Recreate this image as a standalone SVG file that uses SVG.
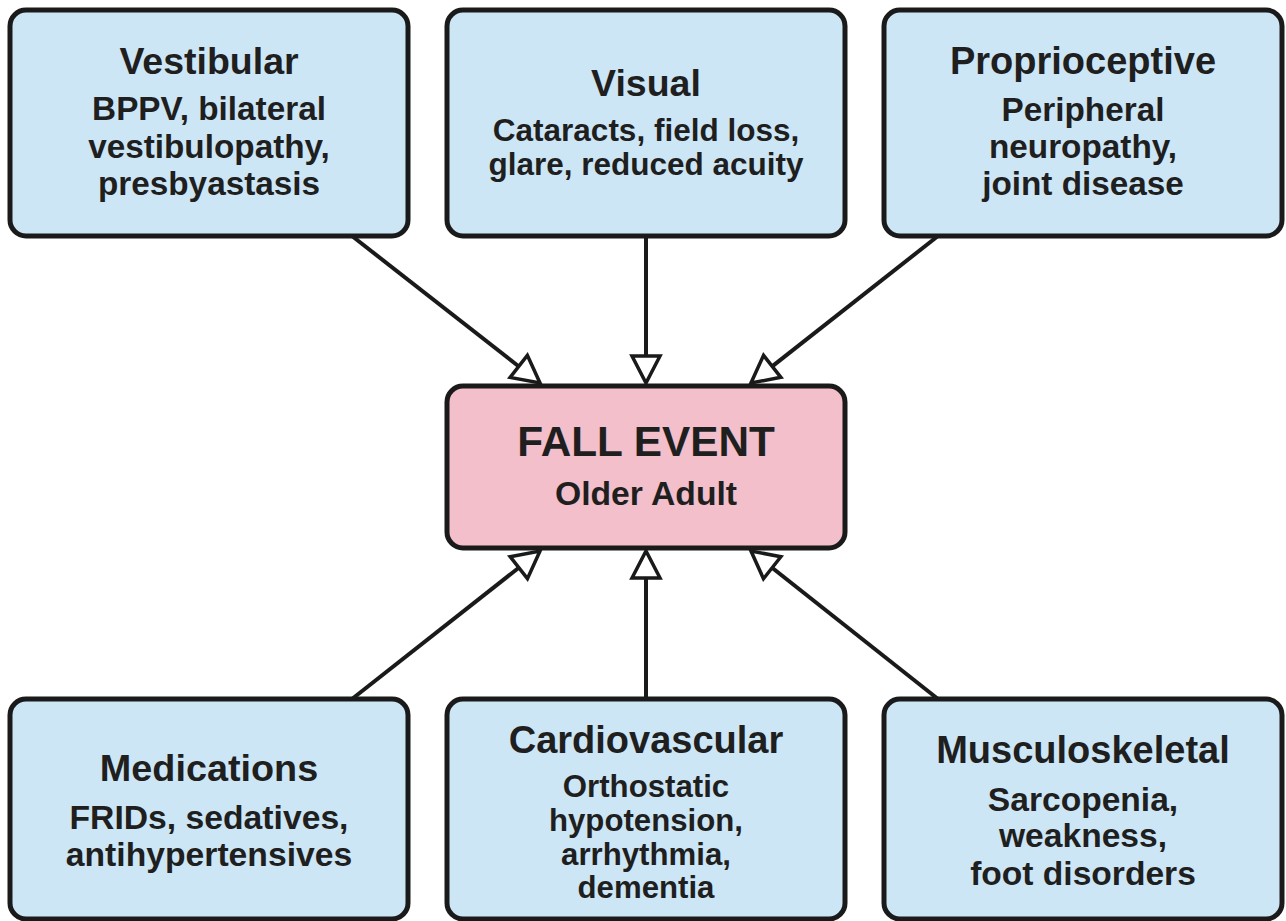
<svg xmlns="http://www.w3.org/2000/svg" width="1286" height="921" viewBox="0 0 1286 921">
<style>
.box{fill:#cde6f6;stroke:#1a1a1a;stroke-width:5}
.center{fill:#f2bfcb;stroke:#1a1a1a;stroke-width:5}
text{font-family:"Liberation Sans",Arial,sans-serif;font-weight:bold;fill:#1f1f1f;text-anchor:middle}
.t{font-size:37.5px}
.b{font-size:33.3px}
.conn{stroke:#1a1a1a;stroke-width:4;fill:none;marker-end:url(#arr)}
</style>
<defs>
<marker id="arr" markerUnits="userSpaceOnUse" viewBox="0 0 34 34" markerWidth="34" markerHeight="34" refX="31" refY="17" orient="auto">
<path d="M4 3 L31 17 L4 31 Z" fill="#ffffff" stroke="#1a1a1a" stroke-width="3.5" stroke-linejoin="miter"/>
</marker>
</defs>
<rect width="1286" height="921" fill="#ffffff"/>
<g id="connectors">
<line class="conn" x1="352" y1="236" x2="540" y2="383"/>
<line class="conn" x1="646" y1="236" x2="646" y2="383"/>
<line class="conn" x1="938" y1="236" x2="751" y2="383"/>
<line class="conn" x1="352" y1="699" x2="540" y2="551"/>
<line class="conn" x1="646" y1="699" x2="646" y2="551"/>
<line class="conn" x1="938" y1="699" x2="751" y2="551"/>
</g>
<g id="vestibular">
<rect class="box" x="10" y="10" width="398" height="226" rx="16"/>
<text class="t" x="209" y="74">Vestibular</text>
<text class="b" x="209" y="120">BPPV, bilateral</text>
<text class="b" x="209" y="158">vestibulopathy,</text>
<text class="b" x="209" y="195">presbyastasis</text>
</g>
<g id="visual">
<rect class="box" x="447" y="10" width="398" height="226" rx="16"/>
<text class="t" x="646" y="96">Visual</text>
<text class="b" x="646" y="141" style="font-size:31.5px">Cataracts, field loss,</text>
<text class="b" x="646" y="175" style="font-size:31.5px">glare, reduced acuity</text>
</g>
<g id="proprioceptive">
<rect class="box" x="884" y="10" width="398" height="226" rx="16"/>
<text class="t" x="1083" y="74" style="font-size:38px">Proprioceptive</text>
<text class="b" x="1083" y="121">Peripheral</text>
<text class="b" x="1083" y="158">neuropathy,</text>
<text class="b" x="1083" y="195">joint disease</text>
</g>
<g id="fall-event">
<rect class="center" x="447" y="386" width="398" height="162" rx="16"/>
<text x="646" y="456" style="font-size:42.3px">FALL EVENT</text>
<text x="646" y="505" style="font-size:33.7px">Older Adult</text>
</g>
<g id="medications">
<rect class="box" x="10" y="699" width="398" height="220" rx="16"/>
<text class="t" x="209" y="781" style="font-size:37.8px">Medications</text>
<text class="b" x="209" y="829" style="font-size:33.7px">FRIDs, sedatives,</text>
<text class="b" x="209" y="866" style="font-size:33.7px">antihypertensives</text>
</g>
<g id="cardiovascular">
<rect class="box" x="447" y="699" width="398" height="220" rx="16"/>
<text class="t" x="646" y="753" style="font-size:38px">Cardiovascular</text>
<text class="b" x="646" y="797" style="font-size:31.2px">Orthostatic</text>
<text class="b" x="646" y="831" style="font-size:31.2px">hypotension,</text>
<text class="b" x="646" y="865" style="font-size:31.2px">arrhythmia,</text>
<text class="b" x="646" y="898" style="font-size:31.2px">dementia</text>
</g>
<g id="musculoskeletal">
<rect class="box" x="884" y="699" width="398" height="220" rx="16"/>
<text class="t" x="1083" y="763" style="font-size:38px">Musculoskeletal</text>
<text class="b" x="1083" y="811" style="font-size:33.6px">Sarcopenia,</text>
<text class="b" x="1083" y="847" style="font-size:33.6px">weakness,</text>
<text class="b" x="1083" y="885" style="font-size:33.6px">foot disorders</text>
</g>
</svg>
